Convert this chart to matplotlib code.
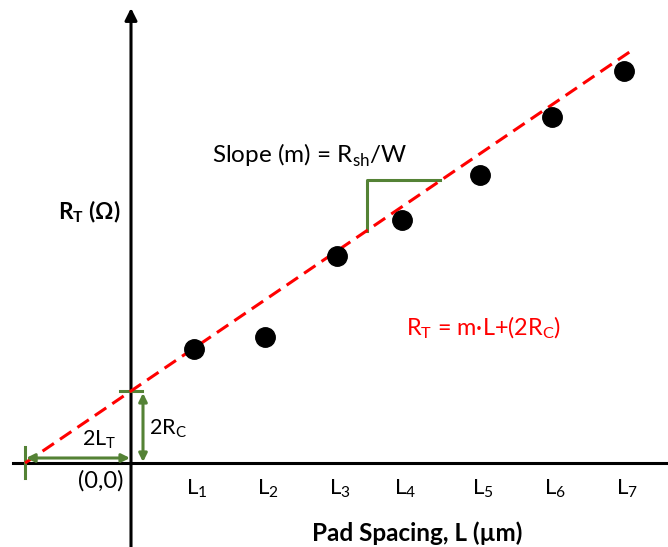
import numpy as np
import matplotlib.pyplot as plt

plt.rcParams['font.family'] = ['Lato', 'DejaVu Sans']
plt.rcParams['mathtext.fontset'] = 'custom'
plt.rcParams['mathtext.rm'] = 'Lato'
plt.rcParams['mathtext.bf'] = 'Lato:bold'

# ---------- data (schematic units) ----------
pad_labels = ['L$_1$', 'L$_2$', 'L$_3$', 'L$_4$', 'L$_5$', 'L$_6$', 'L$_7$']
pad_spacing = [6.3, 13.4, 20.6, 27.1, 34.9, 42.1, 49.3]
total_res = [11.4, 12.6, 20.7, 24.3, 28.8, 34.6, 39.2]
slope = 0.68
intercept = 7.2          # 2Rc
x_intercept = -intercept / slope   # -2LT

GREEN = '#548235'
RED = '#FF0000'

fig = plt.figure(figsize=(6.68, 5.47), dpi=100)
ax = fig.add_axes([0, 0, 1, 1])
ax.set_xlim(-13.1, 53.7)
ax.set_ylim(-8.4, 46.3)
ax.axis('off')

# ---------- axes drawn by hand ----------
ax.plot([-11.8, 53.7], [0, 0], color='black', lw=2.2, zorder=2)
ax.annotate('', xy=(0, 45.5), xytext=(0, -8.4),
            arrowprops=dict(arrowstyle='-|>', color='black', lw=2.2,
                            mutation_scale=18, shrinkA=0, shrinkB=0), zorder=2)

# ---------- fit line + data ----------
fit_x = np.array([x_intercept, 50.0])
ax.plot(fit_x, slope * fit_x + intercept, color=RED, lw=2.2,
        dashes=(4.5, 2.4), zorder=3)
ax.plot(pad_spacing, total_res, 'o', color='black', ms=14, zorder=4)

# ---------- green construction marks ----------
ax.plot([x_intercept, x_intercept], [-1.5, 1.6], color=GREEN, lw=2.2)
ax.annotate('', xy=(-0.1, 0.5), xytext=(x_intercept + 0.1, 0.5),
            arrowprops=dict(arrowstyle='<|-|>', color=GREEN, lw=2.2,
                            mutation_scale=12, shrinkA=0, shrinkB=0))
ax.plot([-1.1, 1.1], [intercept, intercept], color=GREEN, lw=2.2)
ax.annotate('', xy=(1.2, 0.1), xytext=(1.2, intercept - 0.2),
            arrowprops=dict(arrowstyle='<|-|>', color=GREEN, lw=2.2,
                            mutation_scale=12, shrinkA=0, shrinkB=0))
# slope triangle
sx0, sx1 = 23.6, 30.9
ax.plot([sx0, sx0, sx1], [slope * sx0 + intercept, 28.3, 28.3],
        color=GREEN, lw=2.2)

# ---------- text ----------
ax.set_xticks([])
for x, lab in zip(pad_spacing, pad_labels):
    ax.text(x + 0.3, -2.6, lab, ha='center', va='center', fontsize=16)

ax.text(-3.0, -1.8, '(0,0)', ha='center', va='center', fontsize=17)
ax.text(-3.2, 2.3, '2L$_\\mathregular{T}$', ha='center', va='center', fontsize=15.5)
ax.text(3.7, 3.4, '2R$_\\mathregular{C}$', ha='center', va='center', fontsize=15.5)
ax.text(17.9, 30.8, 'Slope (m) = R$_\\mathregular{sh}$/W', ha='center',
        va='center', fontsize=17.5)
ax.text(35.3, 13.5, 'R$_\\mathregular{T}$ = m·L+(2R$_\\mathregular{C}$)',
        ha='center', va='center', fontsize=16.8, color=RED)
ax.text(-4.2, 25.1, 'R$_\\mathbf{T}$ (Ω)', ha='center', va='center',
        fontsize=16.3, fontweight='bold')
ax.text(28.6, -7.0, 'Pad Spacing, L (µm)', ha='center', va='center',
        fontsize=17.5, fontweight='bold')

fig.savefig('out.png', dpi=100)
